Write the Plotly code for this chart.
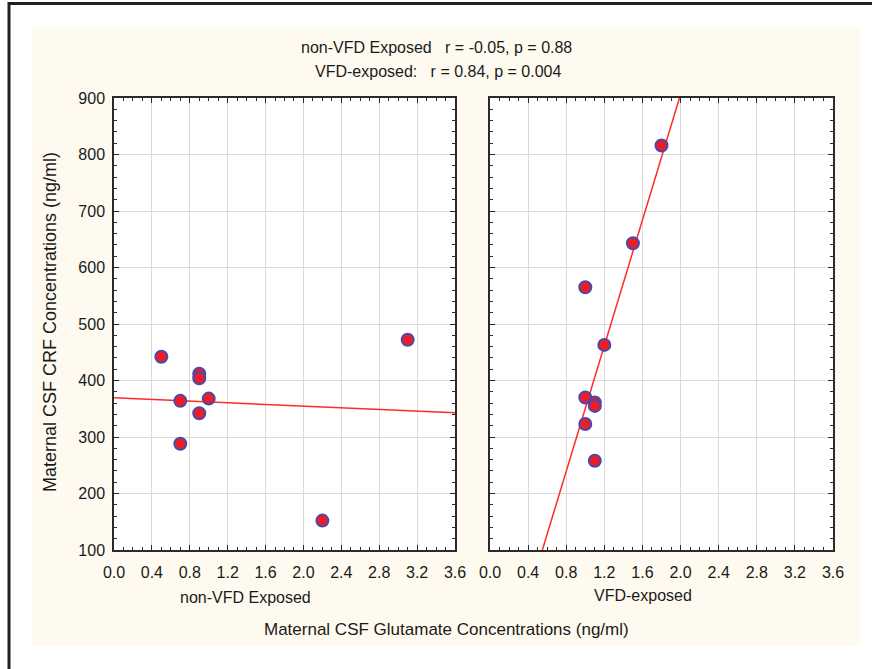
import numpy as np
import plotly.graph_objects as go

# ---- data ----
nonvfd_x = [0.5, 0.7, 0.7, 0.9, 0.9, 0.9, 1.0, 2.2, 3.1]
nonvfd_y = [442, 364, 288, 412, 404, 342, 368, 152, 472]
vfd_x = [1.0, 1.2, 1.0, 1.1, 1.1, 1.0, 1.1, 1.8, 1.5]
vfd_y = [565, 463, 370, 361, 355, 323, 258, 816, 643]

x_ticks = [0.0, 0.4, 0.8, 1.2, 1.6, 2.0, 2.4, 2.8, 3.2, 3.6]
y_ticks = [100, 200, 300, 400, 500, 600, 700, 800, 900]

title_line1 = "non-VFD Exposed   r = -0.05, p = 0.88"
title_line2 = "VFD-exposed:   r = 0.84, p = 0.004"
panel_left = "non-VFD Exposed"
panel_right = "VFD-exposed"
x_title = "Maternal CSF Glutamate Concentrations (ng/ml)"
y_title = "Maternal CSF CRF Concentrations (ng/ml)"

W, H = 872, 669
FONT = "Liberation Sans, Arial, sans-serif"
TXT = "#1a1a1a"
RED = "#ee1c24"
EDGE = "#4a4aad"


def px(x):
    return x / W


def py(y):
    return 1 - y / H


def fit_line(xs, ys):
    b, a = np.polyfit(xs, ys, 1)
    xx = np.array([x_ticks[0], x_ticks[-1]])
    return xx, a + b * xx


fig = go.Figure()

for xs, ys, xa, ya in [(nonvfd_x, nonvfd_y, "x", "y"), (vfd_x, vfd_y, "x2", "y2")]:
    lx, ly = fit_line(xs, ys)
    fig.add_trace(go.Scatter(x=lx, y=ly, mode="lines", xaxis=xa, yaxis=ya,
                             line=dict(color="#ff2a2a", width=1.5), hoverinfo="skip"))
    fig.add_trace(go.Scatter(x=xs, y=ys, mode="markers", xaxis=xa, yaxis=ya,
                             marker=dict(size=12, color=RED, line=dict(color=EDGE, width=2))))

axis_common = dict(
    showgrid=True, gridcolor="#dadada", gridwidth=1,
    showline=True, linecolor="#2a2a2a", linewidth=1.5, mirror="ticks",
    ticks="inside", ticklen=5, tickcolor="#2a2a2a", tickwidth=1,
    zeroline=False, automargin=False,
    tickfont=dict(family=FONT, size=16, color=TXT),
)

xcommon = dict(axis_common, range=[x_ticks[0], x_ticks[-1]], tickvals=x_ticks,
               ticktext=[f"{v:.1f}" for v in x_ticks], ticklabelstandoff=7,
               minor=dict(dtick=0.1, tick0=0, ticks="inside", ticklen=3,
                          tickcolor="#2a2a2a", showgrid=False))
ycommon = dict(axis_common, range=[y_ticks[0], y_ticks[-1]], tickvals=y_ticks,
               minor=dict(dtick=20, tick0=0, ticks="inside", ticklen=3,
                          tickcolor="#2a2a2a", showgrid=False))

fig.update_layout(
    width=W, height=H, template="none",
    margin=dict(l=0, r=0, t=0, b=0),
    paper_bgcolor="white", plot_bgcolor="white",
    showlegend=False,
    xaxis=dict(xcommon, domain=[px(114), px(455)], anchor="y"),
    yaxis=dict(ycommon, domain=[py(550), py(98)], anchor="x", ticklabelstandoff=4),
    xaxis2=dict(xcommon, domain=[px(490), px(833)], anchor="y2"),
    yaxis2=dict(ycommon, domain=[py(550), py(98)], anchor="x2", showticklabels=False),
)

shapes = [
    dict(type="rect", xref="paper", yref="paper", x0=px(32), x1=px(860), y0=py(646), y1=py(27),
         fillcolor="#fefaf0", line=dict(width=0), layer="below"),
    dict(type="rect", xref="x domain", yref="y domain", x0=0, x1=1, y0=0, y1=1,
         fillcolor="white", line=dict(width=0), layer="below"),
    dict(type="rect", xref="x2 domain", yref="y2 domain", x0=0, x1=1, y0=0, y1=1,
         fillcolor="white", line=dict(width=0), layer="below"),
    dict(type="line", xref="paper", yref="paper", x0=px(9), x1=px(9), y0=0, y1=py(2),
         line=dict(color="#231f20", width=3)),
    dict(type="line", xref="paper", yref="paper", x0=px(8), x1=1, y0=py(3.5), y1=py(3.5),
         line=dict(color="#231f20", width=3)),
]
fig.update_layout(shapes=shapes)

f16 = dict(family=FONT, size=16, color=TXT)
f17 = dict(family=FONT, size=17, color=TXT)
f18 = dict(family=FONT, size=18, color=TXT)
annotations = [
    dict(text=title_line1, x=px(436), y=py(48), font=f16),
    dict(text=title_line2, x=px(438), y=py(72), font=f16),
    dict(text=panel_left, x=px(246), y=py(597), font=f16),
    dict(text=panel_right, x=px(643), y=py(595), font=f16),
    dict(text=x_title, x=px(447), y=py(629), font=f17),
    dict(text=y_title, x=px(50), y=py(322), font=f18, textangle=-90),
]
for a in annotations:
    a.update(xref="paper", yref="paper", showarrow=False, xanchor="center", yanchor="middle")
fig.update_layout(annotations=annotations)

fig.write_html("out.html")
